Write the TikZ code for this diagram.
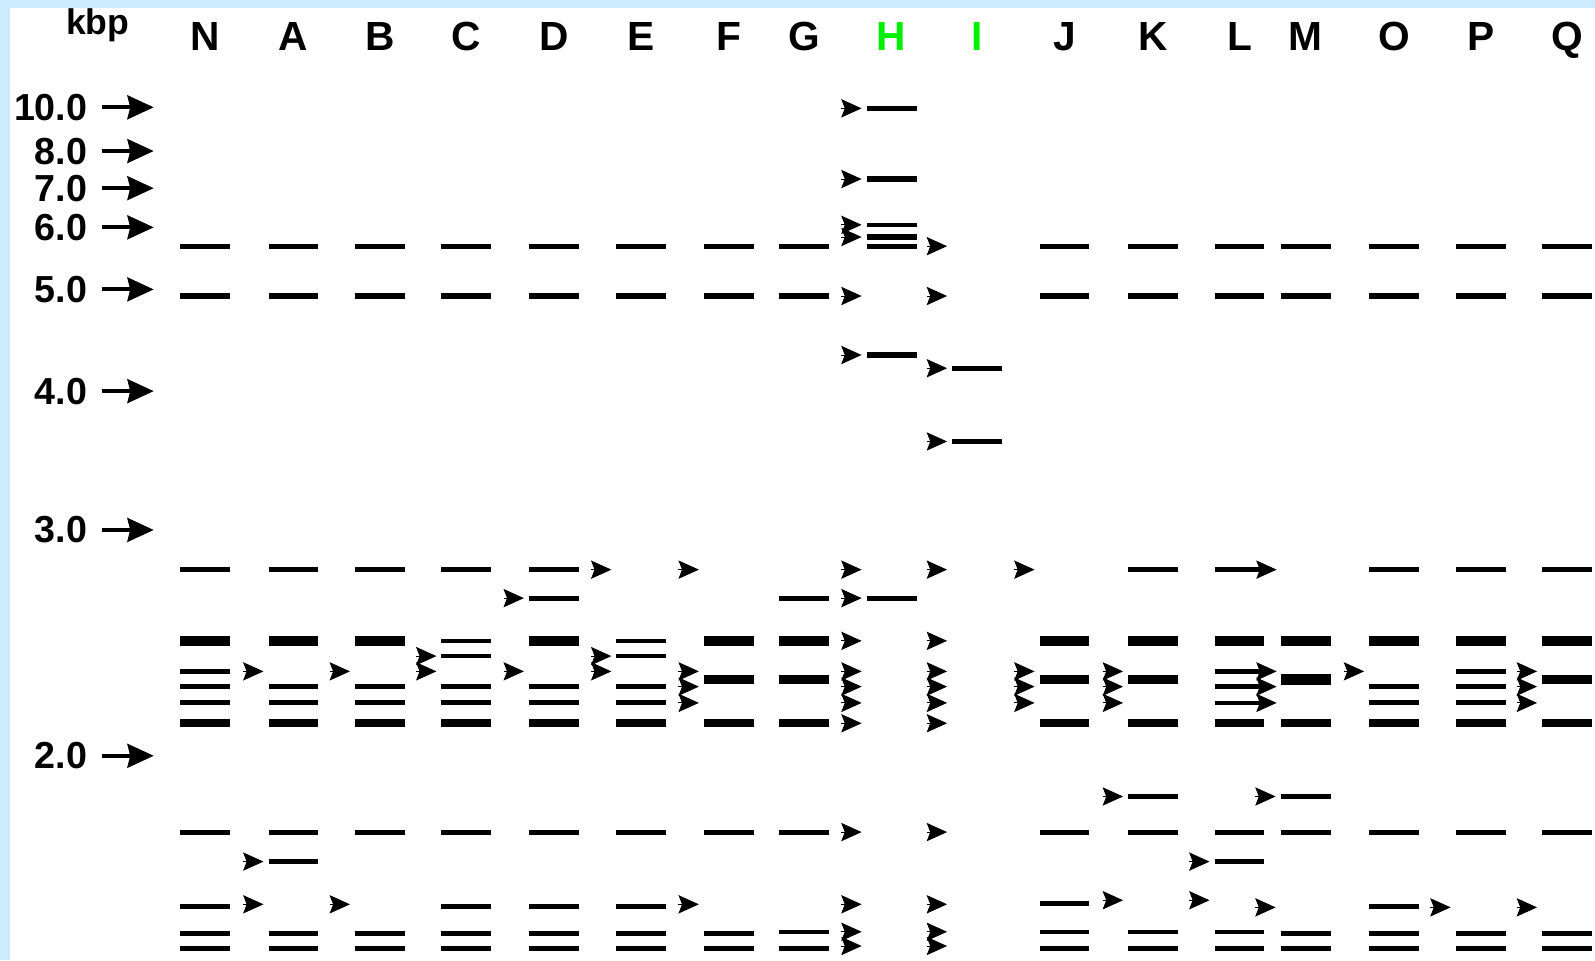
\documentclass[tikz,border=0pt]{standalone}
\usepackage{fontspec}
\setmainfont{Liberation Sans}
\usetikzlibrary{arrows.meta}
\definecolor{frameblue}{HTML}{CCEBFF}
\definecolor{hilite}{HTML}{00F000}

\begin{document}
\begin{tikzpicture}[
  x=1pt,y=-1pt,
  lane/.style={anchor=base,inner sep=0pt,text=#1,font=\fontsize{40}{46}\selectfont\bfseries},
  kbsize/.style={anchor=east,inner sep=0pt,font=\fontsize{37}{44}\selectfont\bfseries},
  band/.style={line width=5pt},
  thinband/.style={line width=3.8pt},
  wideband/.style={line width=7.5pt},
  fatband/.style={line width=9.5pt},
  pointer/.style={line width=0.8pt,-{Stealth[length=20pt,width=18pt,inset=3.5pt]}},
  sizearrow/.style={line width=4pt,-{Stealth[length=26pt,width=24pt,inset=3pt,line width=0.8pt]}},
  arrowband/.style={line width=4.5pt,-{Stealth[length=20pt,width=18pt,inset=3.5pt,line width=0.8pt]}}
]
\useasboundingbox (0,0) rectangle (1568,944);
\fill[frameblue] (0,0) rectangle (1568,944);
\fill[white] (10,8) rectangle (1568,944);

% lanes
\foreach \l/\x/\c in {N/177/black,A/264/black,B/349/black,C/434/black,D/520/black,
  E/606/black,F/692/black,G/766/black,H/852/hilite,I/936/hilite,J/1022/black,
  K/1109/black,L/1194/black,M/1259/black,O/1346/black,P/1431/black,Q/1516/black}
{
  \coordinate (\l) at (\x,0);
  \path (\l) ++(24.5,50) node[lane=\c] (lab\l) {\l};
}
\node[lane=black,font=\fontsize{35}{40}\selectfont\bfseries] (kbp) at (96,34) {kbp};

% size markers
\foreach \v/\y [count=\i] in {10.0/105.5,8.0/148.5,7.0/185,6.0/223.5,5.0/284.5,4.0/384.5,3.0/521,2.0/743}
{
  \node[kbsize] (size\i) at (86,\y) {\v};
  \draw[sizearrow] (size\i.east) ++(14,0) -- ++(51,0);
}

% bands
\foreach \y/\ls in {106.5/{H},176/{H},233/{H},
  242/{N,A,B,C,D,E,F,G,H,J,K,L,M,O,P,Q},
  291/{N,A,B,C,D,E,F,G,J,K,L,M,O,P,Q},
  349/{H},362/{I},434/{I},
  560/{N,A,B,C,D,K,O,P,Q},588/{D,G,H},
  660/{N,P},675/{N,A,B,C,D,E,O,P},691/{N,A,B,C,D,E,O,P},
  783/{K,M},818/{N,A,B,C,D,E,F,G,J,K,L,M,O,P,Q},847/{A,L},
  891/{N,C,D,E,O},888/{J},918/{N,A,B,C,D,E,F,M,O,P,Q},
  932/{N,A,B,C,D,E,F,G,J,K,L,M,O,P,Q}}
  \foreach \l in \ls \draw[band] (\l) ++(0,\y) -- ++(49,0);
\foreach \y/\ls in {221/{H},630/{C,E},645/{C,E},916/{G,J,K,L}}
  \foreach \l in \ls \draw[thinband] (\l) ++(0,\y) -- ++(49,0);
\foreach \y/\ls in {630/{N,A,B,D,F,G,J,K,L,M,O,P,Q},668/{F,G,J,K,Q}}
  \foreach \l in \ls \draw[fatband] (\l) ++(0,\y) -- ++(49,0);
\draw[fatband,line width=10.5pt] (M) ++(0,668) -- ++(49,0);
\foreach \l in {N,A,B,C,D,E,F,G,J,K,L,M,O,P,Q}
  \draw[wideband] (\l) ++(0,711) -- ++(49,0);
\foreach \y in {560,660,675,691}
  \draw[arrowband] (L) ++(0,\y) -- ++(61,0);

% pointers
\foreach \y/\ls in {106.5/{H},176/{H},221/{H},233/{H},242/{I},291/{H,I},
  349/{H},362/{I},434/{I},
  560/{E,F,H,I,J},588/{D,H},630/{H,I},645/{C,E},
  660/{A,B,C,D,E,F,H,I,J,K,O,Q},675/{F,H,I,J,K,Q},691/{F,H,I,J,K,Q},
  711/{H,I},783/{K,M},818/{H,I},847/{A,L},
  885/{K,L},889/{A,B,F,H,I},892/{M,P,Q},916/{H,I},930/{H,I}}
  \foreach \l in \ls \draw[pointer] (\l) ++(-25,\y) -- ++(20,0);
\end{tikzpicture}
\end{document}
